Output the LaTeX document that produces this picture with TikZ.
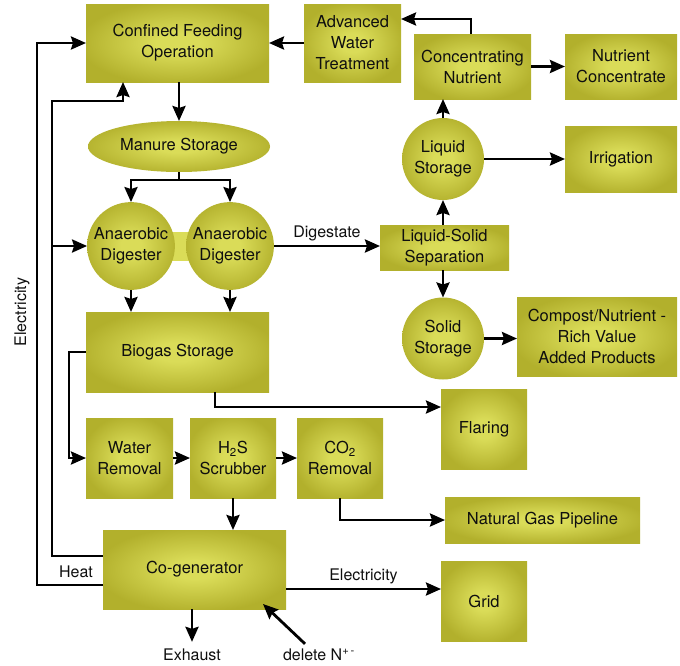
\documentclass[tikz,border=0pt]{standalone}
\usepackage{fontspec}
\setmainfont{TeX Gyre Heros}
\usetikzlibrary{arrows.meta,shapes.geometric}
\definecolor{olivelit}{RGB}{218,220,88}
\definecolor{olivedim}{RGB}{178,176,44}
\definecolor{ink}{RGB}{15,15,15}
\pgfdeclareradialshading{olive}{\pgfpoint{0bp}{0bp}}{color(0bp)=(olivelit); color(6bp)=(olivelit); color(27bp)=(olivedim); color(50bp)=(olivedim)}

\begin{document}
\begin{tikzpicture}[x=1pt, y=-1pt,
	box/.style={rectangle, shade, shading=olive, inner sep=2pt, outer sep=0pt, align=center, text=ink, font=\fontsize{16.5}{21}\selectfont},
	tank/.style={box, circle, minimum size=82},
	arr/.style={line width=2.8pt, -{Stealth[length=15pt,width=13pt,inset=2pt]}},
	line/.style={line width=2.8pt},
	lbl/.style={text=ink, font=\fontsize{16}{20}\selectfont, inner sep=1pt}]
\useasboundingbox (0,0) rectangle (680,665);
\fill[olivelit] (165,232) rectangle (195,261) ; % digester link
\node[box, minimum width=183, minimum height=78] (cfo) at (177.5,43) {Confined Feeding\\Operation}; % feeding
\node[box, minimum width=97, minimum height=78] (awt) at (352.5,43) {Advanced\\Water\\Treatment}; % water
\node[box, minimum width=117, minimum height=65] (cn) at (472.5,66.5) {Concentrating\\Nutrient}; % concentrating
\node[box, minimum width=112, minimum height=65] (nc) at (621,66.5) {Nutrient\\Concentrate}; % concentrate
\node[tank] (ls) at (443,159) {Liquid\\Storage}; % liquid
\node[box, minimum width=112, minimum height=66] (irr) at (621,159) {Irrigation}; % irrigation
\node[box, ellipse, minimum width=182, minimum height=51] (ms) at (179,146.5) {Manure Storage}; % manure
\node[tank] (ad1) at (131,246) {Anaerobic\\Digester}; % digester 1
\node[tank] (ad2) at (230,246) {Anaerobic\\Digester}; % digester 2
\node[box, minimum width=129, minimum height=45] (lss) at (444.5,247.5) {Liquid-Solid\\Separation}; % separation
\node[tank] (ss) at (443,338.5) {Solid\\Storage}; % solid
\node[box, minimum width=160, minimum height=79] (comp) at (597,336.5) {Compost/Nutrient -\\Rich Value\\Added Products}; % compost
\node[box, minimum width=183, minimum height=80] (bs) at (177.5,352) {Biogas Storage}; % biogas
\node[box, minimum width=86, minimum height=80] (fl) at (484,429) {Flaring}; % flaring
\node[box, minimum width=87, minimum height=80] (wr) at (129.5,458) {Water\\Removal}; % water removal
\node[box, minimum width=86, minimum height=80] (hs) at (233,458) {H\textsubscript{2}S\\Scrubber}; % scrubber
\node[box, minimum width=86, minimum height=80] (co) at (340,458) {CO\textsubscript{2}\\Removal}; % co2
\node[box, minimum width=195, minimum height=46] (ngp) at (542.5,520) {Natural Gas Pipeline}; % pipeline
\node[box, minimum width=183, minimum height=79] (cog) at (194.5,569.5) {Co-generator}; % cogen
\node[box, minimum width=86, minimum height=80] (grid) at (484,601) {Grid}; % grid
\node[lbl] (exh) at (192,655) {Exhaust}; % exhaust
\node[lbl] (del) at (319,655) {delete N\textsuperscript{+\,-}}; % delete
\node[lbl] at (76,572) {Heat}; % heat
\node[lbl, rotate=90] at (22,312) {Electricity}; % electricity
\coordinate (heatjoin) at (52,246) ;
\draw[arr] ([yshift=-15.5pt]cog.west) -- ++(-66,0) |- (cfo.west) ; % electricity loop
\draw[arr] ([yshift=13.5pt]cog.west) -| (52,101) -| ([xshift=-54.5pt]cfo.south) ; % heat loop
\draw[arr] (heatjoin) -- (ad1.west) ;
\draw[arr] (awt.west) -- (cfo.east) ;
\draw[arr] ([xshift=-1.5pt]cn.north) |- ([yshift=24pt]awt.east) ;
\draw[arr] (cn.east) -- (nc.west) ;
\draw[arr] (ls.north) -- (cn.south -| ls.north) ;
\draw[arr] (ls.east) -- (irr.west) ;
\draw[arr] (lss.north -| ls.south) -- (ls.south) ;
\draw[arr] (lss.south -| ss.north) -- (ss.north) ;
\draw[arr] (ss.east) -- (comp.west |- ss.east) ;
\draw[arr] (cfo.south -| ms.north) -- (ms.north) ;
\draw[line] (ms.south) -- ++(0,8) coordinate (split) ;
\draw[arr] (split) -| (ad1.north) ;
\draw[arr] (split) -| (ad2.north) ;
\draw[arr] (ad2.east) -- node[lbl, above=3pt] {Digestate} (ad2.east -| lss.west) ;
\draw[arr] (ad1.south) -- (ad1.south |- bs.north) ;
\draw[arr] (ad2.south) -- (ad2.south |- bs.north) ;
\draw[arr] (bs.west) -- ++(-17,0) |- (wr.west) ;
\draw[arr] ([xshift=37.5pt]bs.south) |- ([yshift=22pt]fl.west) ;
\draw[arr] (wr.east) -- (hs.west) ;
\draw[arr] (hs.east) -- (co.west) ;
\draw[arr] (co.south) |- (ngp.west) ;
\draw[arr] (hs.south) -- (hs.south |- cog.north) ;
\draw[arr] ([yshift=-19.5pt]cog.east) -- node[lbl, above=3pt] {Electricity} ([yshift=-19.5pt]cog.east -| grid.west) ;
\draw[arr, shorten >=6pt] (cog.south -| exh.north) -- (exh.north) ;
\draw[arr] ([xshift=-14pt,yshift=4pt]del.north) -- ([xshift=-23pt,yshift=5pt]cog.south east) ;
\end{tikzpicture}
\end{document}
